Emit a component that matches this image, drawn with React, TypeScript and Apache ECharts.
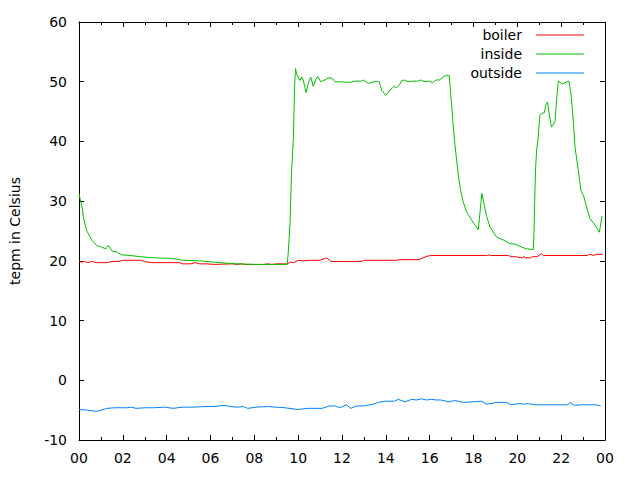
import React, { useEffect, useRef } from "react";
import * as echarts from "echarts";

const seriesNames = ["boiler", "inside", "outside"];
const seriesColors = ["#ff0000", "#00c000", "#0080ff"];

const xTickLabels = ["00", "02", "04", "06", "08", "10", "12", "14", "16", "18", "20", "22", "00"];
const yTicks = [-10, 0, 10, 20, 30, 40, 50, 60];

const boilerHours = [0, 0.1, 0.25, 0.4, 0.6, 0.8, 1.3, 1.5, 1.8, 2.0, 2.8, 3.0, 3.3, 4.6, 4.7, 5.1, 5.3, 5.5, 5.8, 6.2, 7.0, 7.2, 7.4, 7.6, 8.0, 8.4, 8.6, 8.8, 9.0, 9.5, 9.65, 9.8, 10.0, 10.2, 10.6, 11.0, 11.3, 11.5, 12.9, 13.0, 14.5, 14.6, 15.5, 15.9, 16.1, 18.6, 18.7, 18.8, 19.6, 19.7, 19.9, 20.2, 20.3, 20.4, 20.6, 20.7, 20.9, 21.1, 21.2, 23.2, 23.3, 23.5, 23.6, 23.9];
const boilerTemps = [20.0, 19.8, 19.9, 19.7, 19.9, 19.7, 19.7, 19.9, 19.9, 20.1, 20.1, 19.9, 19.7, 19.7, 19.5, 19.5, 19.7, 19.5, 19.5, 19.4, 19.5, 19.4, 19.5, 19.4, 19.4, 19.4, 19.5, 19.4, 19.5, 19.5, 19.8, 19.7, 20.1, 20.0, 20.1, 20.1, 20.5, 19.9, 19.9, 20.1, 20.1, 20.2, 20.2, 20.8, 20.9, 20.9, 21.0, 20.9, 20.9, 20.7, 20.7, 20.5, 20.7, 20.5, 20.5, 20.7, 20.7, 21.2, 20.9, 20.9, 21.1, 20.9, 21.1, 21.1];

const insideHours = [0.0, 0.05, 0.1, 0.15, 0.2, 0.27, 0.35, 0.46, 0.58, 0.8, 1.03, 1.22, 1.34, 1.52, 1.72, 1.95, 2.33, 2.78, 3.47, 4.23, 4.76, 5.5, 6.4, 7.2, 8.1, 9.5, 9.55, 9.63, 9.7, 9.78, 9.81, 9.84, 9.88, 9.93, 10.0, 10.08, 10.16, 10.23, 10.36, 10.46, 10.57, 10.69, 10.8, 10.89, 11.03, 11.22, 11.42, 11.57, 11.68, 12.4, 12.6, 12.9, 12.97, 13.2, 13.54, 13.7, 13.81, 14.0, 14.19, 14.37, 14.49, 14.64, 14.72, 14.85, 15.02, 15.25, 15.45, 15.59, 15.78, 16.0, 16.13, 16.3, 16.45, 16.65, 16.85, 16.89, 16.96, 17.0, 17.08, 17.15, 17.23, 17.3, 17.41, 17.53, 17.68, 17.92, 18.22, 18.29, 18.38, 18.48, 18.6, 18.75, 19.05, 19.36, 19.66, 19.89, 20.27, 20.45, 20.73, 20.76, 20.79, 20.83, 20.88, 20.95, 21.03, 21.11, 21.23, 21.3, 21.38, 21.46, 21.56, 21.72, 21.79, 21.87, 22.05, 22.22, 22.35, 22.45, 22.55, 22.63, 22.78, 22.9, 23.04, 23.16, 23.31, 23.54, 23.74, 23.8, 23.86];
const insideTemps = [31.3, 30.4, 29.6, 28.8, 27.4, 26.2, 25.1, 24.3, 23.5, 22.6, 22.3, 22.0, 22.6, 21.6, 21.5, 21.0, 20.9, 20.7, 20.5, 20.4, 20.1, 20.0, 19.7, 19.5, 19.4, 19.4, 21.5, 26.3, 35.2, 40.2, 44.9, 49.7, 52.2, 51.3, 50.8, 50.2, 50.8, 50.3, 48.2, 49.7, 50.8, 49.2, 50.3, 50.9, 50.0, 50.3, 50.7, 50.5, 50.0, 49.9, 50.1, 50.1, 50.3, 49.7, 50.1, 50.0, 48.6, 47.7, 48.6, 49.2, 49.0, 49.6, 50.1, 50.3, 50.0, 50.1, 50.1, 50.3, 50.0, 50.1, 49.8, 50.3, 50.3, 50.9, 51.1, 51.1, 48.0, 46.3, 42.4, 39.6, 36.9, 34.6, 31.8, 29.9, 28.2, 26.8, 25.2, 27.9, 31.3, 29.6, 27.4, 25.7, 24.0, 23.5, 22.9, 22.8, 22.2, 22.0, 21.9, 24.6, 29.6, 35.2, 38.5, 40.5, 44.4, 44.7, 44.8, 46.1, 46.6, 44.4, 42.4, 43.3, 46.9, 50.1, 49.6, 49.9, 50.1, 48.0, 43.6, 39.1, 35.2, 31.8, 30.7, 29.0, 27.1, 26.0, 24.8, 26.0, 27.5];

const outsideHours = [0, 0.4, 0.8, 1.0, 1.27, 1.65, 2.2, 2.4, 2.6, 3.0, 3.4, 3.9, 4.3, 4.7, 5.2, 5.7, 6.2, 6.6, 6.9, 7.2, 7.5, 7.7, 8.1, 8.6, 9.0, 9.4, 9.98, 10.4, 11.1, 11.4, 11.7, 11.9, 12.2, 12.4, 12.67, 12.97, 13.43, 13.66, 13.96, 14.4, 14.57, 14.87, 15.17, 15.4, 15.61, 15.85, 16.1, 16.3, 16.5, 16.86, 17.16, 17.54, 17.99, 18.37, 18.6, 18.8, 19.05, 19.5, 19.7, 20.1, 20.3, 20.5, 20.8, 21.5, 22.3, 22.4, 22.6, 22.9, 23.6, 23.8];
const outsideTemps = [-4.9, -5.0, -5.2, -5.0, -4.7, -4.6, -4.6, -4.5, -4.7, -4.6, -4.6, -4.5, -4.7, -4.5, -4.5, -4.4, -4.4, -4.2, -4.4, -4.5, -4.4, -4.7, -4.5, -4.4, -4.5, -4.6, -4.9, -4.7, -4.7, -4.3, -4.3, -4.6, -4.1, -4.7, -4.3, -4.3, -4.0, -3.7, -3.5, -3.5, -3.2, -3.6, -3.2, -3.3, -3.1, -3.3, -3.2, -3.3, -3.3, -3.6, -3.4, -3.7, -3.6, -3.5, -4.0, -3.9, -3.7, -3.7, -4.1, -3.9, -4.0, -3.9, -4.1, -4.1, -4.1, -3.7, -4.2, -4.1, -4.1, -4.3];

const hoursData = [boilerHours, insideHours, outsideHours];
const tempsData = [boilerTemps, insideTemps, outsideTemps];

const FONT = "DejaVu Sans";

export default function App() {
  const ref = useRef<HTMLDivElement>(null);
  useEffect(() => {
    if (!ref.current) return;
    const chart = echarts.init(ref.current, undefined, { renderer: "svg" });
    const axisCommon = {
      axisLine: { show: true, onZero: false, lineStyle: { color: "#000", width: 1 } },
      splitLine: { show: false },
    };
    const xLabel = (v: number) => xTickLabels[Math.round(v / 2)] ?? "";
    const xBase = {
      type: "value" as const,
      min: 0,
      max: 24,
      interval: 2,
      ...axisCommon,
      axisTick: { show: true, inside: true, length: 5, lineStyle: { color: "#000" } },
      minorTick: { show: true, splitNumber: 2, length: 3, lineStyle: { color: "#000" } },
    };
    const yBase = {
      type: "value" as const,
      min: yTicks[0],
      max: yTicks[yTicks.length - 1],
      interval: 10,
      ...axisCommon,
      axisTick: { show: true, inside: true, length: 5, lineStyle: { color: "#000" } },
    };
    const legendTops = [28, 47, 66];
    chart.setOption({
      animation: false,
      backgroundColor: "#fff",
      grid: { left: 79, right: 35, top: 22, bottom: 40, containLabel: false },
      xAxis: [
        {
          ...xBase,
          position: "bottom",
          axisLabel: { formatter: xLabel, color: "#000", fontFamily: FONT, fontSize: 14, margin: 11 },
        },
        { ...xBase, position: "top", axisLabel: { show: false } },
      ],
      yAxis: [
        {
          ...yBase,
          position: "left",
          name: "tepm in Celsius",
          nameLocation: "middle",
          nameRotate: 90,
          nameGap: 57,
          nameTextStyle: { color: "#000", fontFamily: FONT, fontSize: 14 },
          axisLabel: { color: "#000", fontFamily: FONT, fontSize: 14, margin: 12 },
        },
        { ...yBase, position: "right", axisLabel: { show: false } },
      ],
      legend: seriesNames.map((n, i) => ({
        data: [n],
        right: 56,
        top: legendTops[i],
        align: "right",
        padding: 0,
        icon: "path://M0,0 H48 V1 H0 Z",
        itemWidth: 48,
        itemHeight: 14,
        selectedMode: false,
        textStyle: { color: "#000", fontFamily: FONT, fontSize: 14, padding: [0, 9, 0, 0] },
      })),
      series: seriesNames.map((n, i) => ({
        name: n,
        type: "line",
        xAxisIndex: 0,
        yAxisIndex: 0,
        symbol: "none",
        color: seriesColors[i],
        lineStyle: { color: seriesColors[i], width: 1 },
        data: hoursData[i].map((h, j) => [h, tempsData[i][j]]),
      })),
    });
    return () => chart.dispose();
  }, []);
  return <div ref={ref} style={{ width: 640, height: 480, position: "absolute", left: 0, top: 0 }} />;
}
